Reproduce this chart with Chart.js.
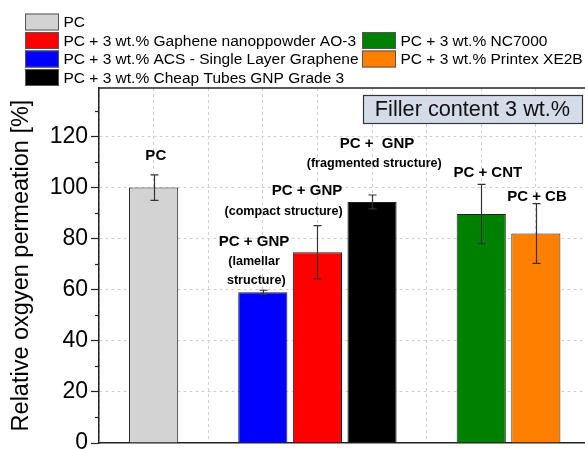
<!DOCTYPE html>
<html><head><meta charset="utf-8">
<script src="https://cdn.jsdelivr.net/npm/chart.js@4/dist/chart.umd.min.js"></script>
<style>html,body{margin:0;padding:0;background:#fff;}#wrap{width:585px;height:449px;position:relative;}canvas{display:block;}</style>
</head><body><div id="wrap"><canvas id="c" width="585" height="449"></canvas></div>
<script>
// ---- data ----
const seriesNames = ['PC', 'PC + 3 wt.% Gaphene nanoppowder AO-3', 'PC + 3 wt.% ACS - Single Layer Graphene', 'PC + 3 wt.% Cheap Tubes GNP Grade 3', 'PC + 3 wt.% NC7000', 'PC + 3 wt.% Printex XE2B'];
const barPositions = [1, 4, 3, 5, 7, 8];
const permeation = [100, 74.7, 59.0, 94.4, 89.7, 82.0];
const errors = [5.0, 10.4, 0.8, 2.7, 11.6, 11.7];
const yTickValues = [0, 20, 40, 60, 80, 100, 120];
const yMinorTickValues = [10, 30, 50, 70, 90, 110, 130];
const xGridValues = [0, 1, 2, 3, 4, 5, 6, 7, 8];
const yTitle = 'Relative oxgyen permeation [%]';
const boxText = 'Filler content 3 wt.%';
const labelTexts = [['PC'], ['PC + GNP', '(compact structure)'], ['PC + GNP', '(lamellar', 'structure)'], ['PC +  GNP', '(fragmented structure)'], ['PC + CNT'], ['PC + CB']];

// ---- styles / layout ----
const colors = ['#d3d3d3', '#ff0000', '#0000ff', '#000000', '#008000', '#ff8000'];
const legendSlots = [[0, 0], [0, 1], [0, 2], [0, 3], [1, 1], [1, 2]];
const labelAnchors = [
  [[1.04, 112.5]],
  [[3.81, 99.1], [3.38, 90.9]],
  [[2.84, 79.1], [2.84, 71.1], [2.88, 63.9]],
  [[5.09, 117.5], [5.04, 109.6]],
  [[7.12, 105.8]],
  [[8.02, 96.4]]
];
const FONT = '"Liberation Sans", Arial, sans-serif';

const overlay = {
  id: 'overlay',
  afterDatasetsDraw(chart) {
    const {ctx, chartArea: ca, scales: {x, y}} = chart;
    ctx.save();
    // error bars
    ctx.strokeStyle = '#333'; ctx.lineWidth = 1.2;
    barPositions.forEach((p, i) => {
      const px = Math.round(x.getPixelForValue(p)) + 0.5;
      const t = y.getPixelForValue(permeation[i] + errors[i]);
      const b = y.getPixelForValue(permeation[i] - errors[i]);
      ctx.beginPath();
      ctx.moveTo(px, t); ctx.lineTo(px, b);
      ctx.moveTo(px - 4, t); ctx.lineTo(px + 4, t);
      ctx.moveTo(px - 4, b); ctx.lineTo(px + 4, b);
      ctx.stroke();
    });
    // top frame line
    ctx.strokeStyle = '#222'; ctx.lineWidth = 1.5;
    ctx.beginPath(); ctx.moveTo(ca.left, ca.top); ctx.lineTo(ca.right, ca.top); ctx.stroke();
    // minor ticks
    ctx.lineWidth = 1.2;
    yMinorTickValues.forEach(v => {
      const py = Math.round(y.getPixelForValue(v)) + 0.5;
      ctx.beginPath(); ctx.moveTo(ca.left - 4, py); ctx.lineTo(ca.left, py); ctx.stroke();
    });
    // bar labels
    ctx.fillStyle = '#000'; ctx.textAlign = 'center'; ctx.textBaseline = 'middle';
    labelTexts.forEach((lines, i) => {
      lines.forEach((txt, j) => {
        const [ax, ay] = labelAnchors[i][j];
        ctx.font = (j === 0 ? 'bold 15px ' : 'bold 12.6px ') + FONT;
        ctx.fillText(txt, x.getPixelForValue(ax), y.getPixelForValue(ay) + 0.5);
      });
    });
    // filler content box
    const bw = 219, bh = 28, bx = ca.right - 3 - bw, by = ca.top + 7;
    ctx.fillStyle = '#d5dce9'; ctx.fillRect(bx, by, bw, bh);
    ctx.strokeStyle = '#333'; ctx.lineWidth = 1.2; ctx.strokeRect(bx + 0.5, by + 0.5, bw, bh);
    ctx.fillStyle = '#111'; ctx.font = '21.7px ' + FONT;
    ctx.fillText(boxText, bx + bw / 2, by + bh / 2 + 1);
    // legend
    ctx.textAlign = 'left'; ctx.font = '15.5px ' + FONT;
    const colX = [25, 362], rowY0 = 13.5, rowH = 18.5, sw = 34, sh = 17;
    seriesNames.forEach((name, i) => {
      const [c, r] = legendSlots[i];
      const sx = colX[c], sy = rowY0 + r * rowH;
      ctx.fillStyle = colors[i]; ctx.fillRect(sx, sy, sw, sh);
      ctx.strokeStyle = '#555'; ctx.lineWidth = 1; ctx.strokeRect(sx + 0.5, sy + 0.5, sw - 1, sh - 1);
      ctx.fillStyle = '#000';
      ctx.fillText(name, sx + sw + 4.5, sy + sh / 2 + 1);
    });
    ctx.restore();
  }
};

new Chart(document.getElementById('c'), {
  type: 'bar',
  data: {
    datasets: [{
      data: barPositions.map((p, i) => ({x: p, y: permeation[i]})),
      backgroundColor: colors,
      borderColor: '#222',
      borderWidth: 1,
      barPercentage: 0.9,
      categoryPercentage: 1
    }]
  },
  options: {
    responsive: false,
    maintainAspectRatio: false,
    animation: false,
    devicePixelRatio: 1,
    layout: {padding: {top: 88, right: 0, bottom: 6, left: 0}},
    plugins: {legend: {display: false}, tooltip: {enabled: false}},
    scales: {
      x: {
        type: 'linear', min: 0, max: 8.9, offset: false,
        afterBuildTicks: s => { s.ticks = xGridValues.map(v => ({value: v})); },
        afterFit: s => { s.height = 0; s.paddingLeft = 0; s.paddingRight = 0; },
        ticks: {display: false},
        grid: {color: '#d0d0d0', lineWidth: 1, drawTicks: false, offset: false},
        border: {color: '#222', width: 1.5, dash: [3, 3]}
      },
      y: {
        min: 0, max: 139,
        afterBuildTicks: s => { s.ticks = yTickValues.map(v => ({value: v})); },
        afterFit: s => { s.width = 99; s.paddingTop = 0; s.paddingBottom = 0; },
        ticks: {color: '#000', font: {family: FONT, size: 23}, padding: 3},
        grid: {
          color: c => (c.tick && c.tick.value > 0) ? '#d0d0d0' : 'rgba(0,0,0,0)',
          tickColor: '#222', tickLength: 8, tickWidth: 1.2
        },
        border: {color: '#222', width: 1.5, dash: [3, 3]},
        title: {display: true, text: yTitle, color: '#000', font: {family: FONT, size: 23.5}, padding: {top: 7, bottom: 0}}
      }
    }
  },
  plugins: [overlay]
});
</script></body></html>
